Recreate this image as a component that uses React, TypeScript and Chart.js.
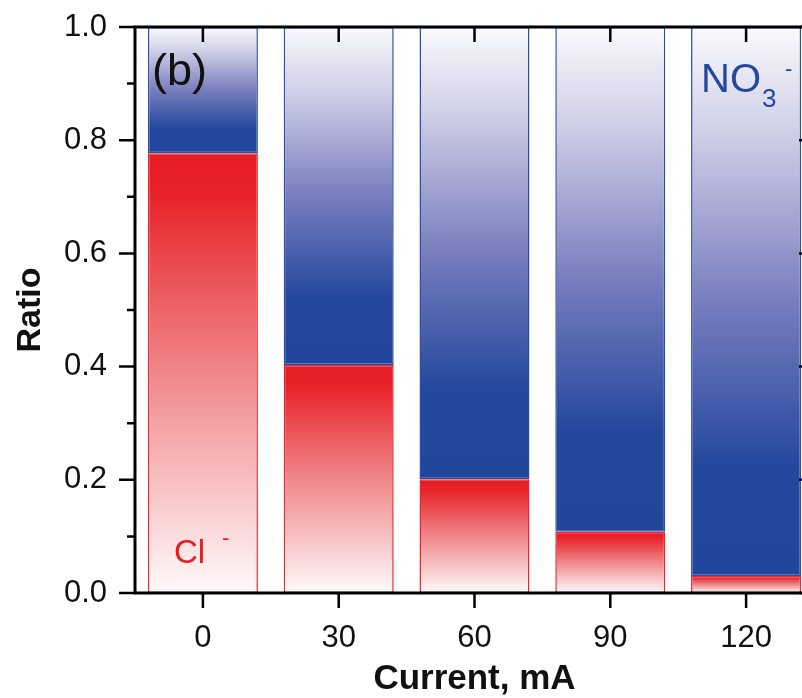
import React, { useEffect, useRef } from "react";
import { Chart, registerables } from "chart.js";

Chart.register(...registerables);

const CURRENT_MA = [0, 30, 60, 90, 120];
const CL_RATIO = [0.777, 0.403, 0.201, 0.108, 0.03];
const NO3_RATIO = [0.223, 0.597, 0.799, 0.892, 0.97];
const X_TICKS = [0, 30, 60, 90, 120];
const Y_MAJOR = [0, 0.2, 0.4, 0.6, 0.8, 1.0];
const Y_MINOR = [0.1, 0.3, 0.5, 0.7, 0.9];

const RED = "rgb(228,30,36)";
const BLUE = "rgb(33,70,155)";
const FONT = 'Arial, "Liberation Sans", sans-serif';

function redFill(ctx: any) {
  if (ctx.type !== "data") return RED;
  const chart = ctx.chart;
  const ys = chart.scales.y;
  if (!ys || !chart.chartArea) return RED;
  const top = ys.getPixelForValue(CL_RATIO[ctx.dataIndex]);
  const bot = ys.getPixelForValue(0);
  const g = chart.ctx.createLinearGradient(0, top, 0, bot);
  g.addColorStop(0, "rgb(229,28,35)");
  g.addColorStop(0.1, "rgb(231,36,42)");
  g.addColorStop(0.5, "rgb(240,135,138)");
  g.addColorStop(1, "rgb(255,250,250)");
  return g;
}

function blueFill(ctx: any) {
  if (ctx.type !== "data") return BLUE;
  const chart = ctx.chart;
  const ys = chart.scales.y;
  if (!ys || !chart.chartArea) return BLUE;
  const bot = ys.getPixelForValue(CL_RATIO[ctx.dataIndex]);
  const top = ys.getPixelForValue(1);
  const g = chart.ctx.createLinearGradient(0, bot, 0, top);
  g.addColorStop(0, "rgb(33,70,155)");
  g.addColorStop(0.2, "rgb(36,72,157)");
  g.addColorStop(0.5, "rgb(120,125,190)");
  g.addColorStop(0.8, "rgb(205,205,230)");
  g.addColorStop(1, "rgb(250,250,253)");
  return g;
}

const framePlugin = {
  id: "frame",
  afterDraw(chart: any) {
    const { ctx, chartArea, scales } = chart;
    const { left, right, top, bottom } = chartArea;
    const xs = scales.x;
    const ys = scales.y;
    ctx.save();
    // annotations
    ctx.textBaseline = "alphabetic";
    ctx.textAlign = "left";
    ctx.fillStyle = "#111";
    ctx.font = `45px ${FONT}`;
    ctx.fillText("(b)", 152, 85);

    ctx.fillStyle = "rgb(35,72,160)";
    ctx.font = `40px ${FONT}`;
    ctx.fillText("NO", 701, 92);
    const noW = ctx.measureText("NO").width;
    ctx.font = `26px ${FONT}`;
    ctx.fillText("3", 701 + noW + 1, 107);
    ctx.font = `22px ${FONT}`;
    ctx.fillText("-", 785, 76);

    ctx.fillStyle = "rgb(228,30,36)";
    ctx.font = `33px ${FONT}`;
    ctx.fillText("Cl", 174, 563);
    ctx.font = `22px ${FONT}`;
    ctx.fillText("-", 222, 545);

    // frame
    ctx.strokeStyle = "#000";
    ctx.lineWidth = 3;
    ctx.beginPath();
    ctx.rect(left, top, right - left, bottom - top);
    ctx.stroke();

    ctx.lineWidth = 2.5;
    ctx.beginPath();
    for (const v of X_TICKS) {
      const x = xs.getPixelForValue(v);
      ctx.moveTo(x, bottom);
      ctx.lineTo(x, bottom + 15);
      ctx.moveTo(x, top);
      ctx.lineTo(x, top + 15);
    }
    for (const v of Y_MAJOR) {
      const y = ys.getPixelForValue(v);
      ctx.moveTo(left, y);
      ctx.lineTo(left - 16, y);
      ctx.moveTo(right, y);
      ctx.lineTo(right - 15, y);
    }
    for (const v of Y_MINOR) {
      const y = ys.getPixelForValue(v);
      ctx.moveTo(left, y);
      ctx.lineTo(left - 8, y);
      ctx.moveTo(right, y);
      ctx.lineTo(right - 8, y);
    }
    ctx.stroke();
    ctx.restore();
  },
};

export default function App() {
  const ref = useRef<HTMLCanvasElement | null>(null);
  useEffect(() => {
    if (!ref.current) return;
    const chart = new Chart(ref.current, {
      type: "bar",
      data: {
        datasets: [
          {
            label: "Cl-",
            data: CURRENT_MA.map((c, i) => ({ x: c, y: CL_RATIO[i] })),
            backgroundColor: redFill,
            borderColor: "rgb(232,40,45)",
            borderWidth: 1.5,
            borderSkipped: false,
            barPercentage: 0.81,
            categoryPercentage: 1,
          },
          {
            label: "NO3-",
            data: CURRENT_MA.map((c, i) => ({ x: c, y: NO3_RATIO[i] })),
            backgroundColor: blueFill,
            borderColor: "rgb(40,80,170)",
            borderWidth: 1.5,
            borderSkipped: false,
            barPercentage: 0.81,
            categoryPercentage: 1,
          },
        ],
      },
      options: {
        animation: false,
        responsive: false,
        devicePixelRatio: 1,
        layout: { padding: { top: 27, right: 16, left: 0, bottom: 0 } },
        plugins: {
          legend: { display: false },
          tooltip: { enabled: false },
        },
        scales: {
          x: {
            type: "linear",
            stacked: true,
            offset: false,
            min: -15,
            max: 135,
            afterBuildTicks: (s: any) => {
              s.ticks = X_TICKS.map((v) => ({ value: v }));
            },
            afterFit: (s: any) => {
              s.height = 105;
              s.paddingLeft = 0;
              s.paddingRight = 0;
            },
            grid: { display: false, drawTicks: false },
            border: { display: false },
            ticks: {
              color: "#111",
              font: { family: FONT, size: 31 },
              padding: 27,
              maxRotation: 0,
              autoSkip: false,
              callback: (v: any) => String(v),
            },
            title: {
              display: true,
              text: "Current, mA",
              color: "#111",
              font: { family: FONT, size: 35, weight: "bold", lineHeight: 1 },
              padding: { top: 0, bottom: 1 },
            },
          },
          y: {
            stacked: true,
            min: 0,
            max: 1,
            afterBuildTicks: (s: any) => {
              s.ticks = Y_MAJOR.map((v) => ({ value: v }));
            },
            afterFit: (s: any) => {
              s.width = 135;
              s.paddingTop = 0;
              s.paddingBottom = 0;
            },
            grid: { display: false, drawTicks: false },
            border: { display: false },
            ticks: {
              color: "#111",
              font: { family: FONT, size: 31 },
              padding: 28,
              callback: (v: any) => Number(v).toFixed(1),
            },
            title: {
              display: true,
              text: "Ratio",
              color: "#111",
              font: { family: FONT, size: 34, weight: "bold", lineHeight: 1 },
              padding: { top: 14, bottom: 0 },
            },
          },
        },
      },
      plugins: [framePlugin],
    });
    return () => chart.destroy();
  }, []);
  return (
    <div
      style={{
        position: "fixed",
        left: 0,
        top: 0,
        width: 802,
        height: 698,
        overflow: "hidden",
        background: "#fff",
      }}
    >
      <canvas ref={ref} width={830} height={698} style={{ display: "block" }} />
    </div>
  );
}
